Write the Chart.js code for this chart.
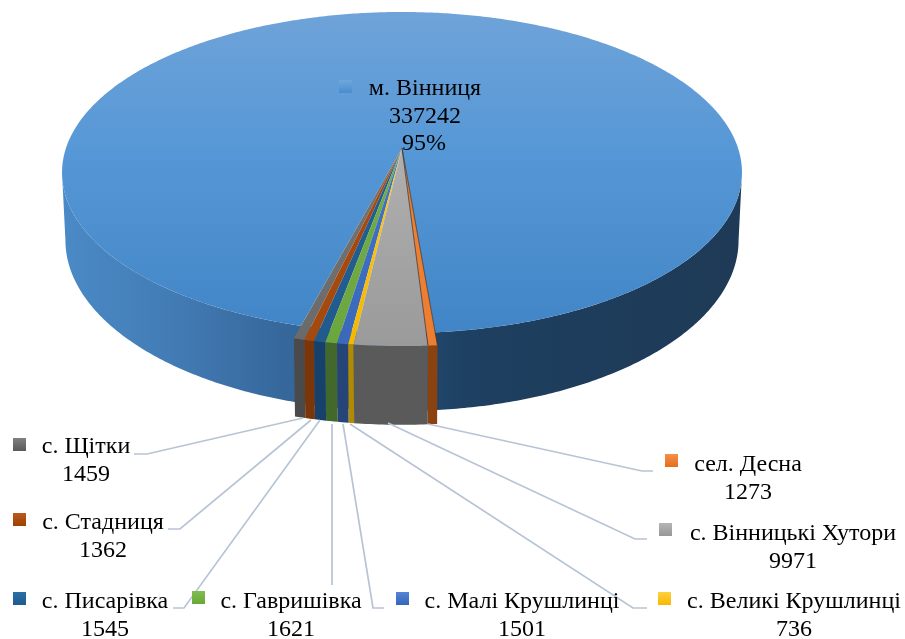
<!DOCTYPE html>
<html><head><meta charset="utf-8">
<style>html,body{margin:0;padding:0;background:#fff}canvas{display:block}</style>
<script src="https://cdn.jsdelivr.net/npm/chart.js@4"></script></head>
<body><canvas id="c" width="905" height="639"></canvas>
<script>
const categories = ['м. Вінниця','сел. Десна','с. Вінницькі Хутори','с. Великі Крушлинці','с. Малі Крушлинці','с. Гавришівка','с. Писарівка','с. Стадниця','с. Щітки'];
const values = [337242,1273,9971,736,1501,1621,1545,1362,1459];
const topTop = ['#6fa3d9','#f08030','#b0b0b0','#ffc81e','#4472c4','#70ad47','#255e91','#a9480f','#757575'];
const topBottom = ['#4285c6','#ed7d31','#9a9a9a','#f5b800','#3a68ba','#6ca63f','#215a8c','#a44a0e','#6a6a6a'];
const sideColors = [null,'#8a4310','#5a5a5a','#b08a00','#264478','#43682b','#17406a','#7a3508','#4a4a4a'];
const keyTop = ['#6fa8dc','#f4904c','#b5b5b5','#ffd040','#5585d5','#80bd50','#2a70a8','#b85a20','#808080'];
const keyBottom = ['#4a8ccc','#e86c1a','#979797','#f8b800','#3565b8','#68a838','#1f5a8c','#a04000','#5a5a5a'];
// label layout: centre x, first baseline y, key x, key y, leader elbow points
const labelBoxes = [
 {i:0,cx:425,y:95,kx:339,ky:80,pct:true},
 {i:1,cx:748,y:471,kx:665,ky:454,line:[[653,471],[642,471],[428,424]]},
 {i:2,cx:793,y:540,kx:659,ky:523,line:[[647,539],[635,539],[388,423]]},
 {i:3,cx:794,y:608,kx:658,ky:592,line:[[647,608],[633,608],[350,424]]},
 {i:4,cx:522,y:608,kx:396,ky:592,line:[[384,608],[373,608],[343,424]]},
 {i:5,cx:291,y:608,kx:192,ky:591,line:[[332,585],[332,424]]},
 {i:6,cx:105,y:608,kx:13,ky:592,line:[[173,608],[184,608],[320,420]]},
 {i:7,cx:103,y:529,kx:13,ky:513,line:[[168,529],[180,529],[311,420]]},
 {i:8,cx:86,y:453,kx:13,ky:438,line:[[134,454],[147,454],[303,418]]}
];
const CX=402, CY=148, K=156.8, P=0.1527, R=336, S=1.059, D=66, TAPER=0.99;
function proj(a,s,bottom){
  const u=Math.cos(a)*s, v=Math.sin(a)*s, w=1-P*v;
  let x=R*u/w, y=K*v/w;
  if(bottom){ x*=TAPER; y+=D/w; }
  return [CX+x, CY+y];
}
function facePath(ctx,a0,a1,s){
  ctx.beginPath(); ctx.moveTo(CX,CY);
  const n=Math.max(2,Math.ceil((a1-a0)/0.01));
  for(let j=0;j<=n;j++){const p=proj(a0+(a1-a0)*j/n,s,false);ctx.lineTo(p[0],p[1]);}
  ctx.closePath();
}
function wallPath(ctx,a0,a1,s){
  ctx.beginPath();
  const n=Math.max(2,Math.ceil((a1-a0)/0.01));
  for(let j=0;j<=n;j++){const p=proj(a0+(a1-a0)*j/n,s,false);j?ctx.lineTo(p[0],p[1]):ctx.moveTo(p[0],p[1]);}
  for(let j=n;j>=0;j--){const p=proj(a0+(a1-a0)*j/n,s,true);ctx.lineTo(p[0],p[1]);}
  ctx.closePath();
}
const pie3d={id:'pie3d',
 beforeDatasetsDraw(chart){
  const ctx=chart.ctx, arcs=chart.getDatasetMeta(0).data;
  ctx.save();
  const big=arcs[0];
  const wallGrad=ctx.createLinearGradient(62,0,742,0);
  wallGrad.addColorStop(0,'#4a8ac6');wallGrad.addColorStop(0.16,'#437cb5');wallGrad.addColorStop(0.32,'#36689c');
  wallGrad.addColorStop(0.45,'#2f5f91');wallGrad.addColorStop(0.55,'#1f4568');wallGrad.addColorStop(0.62,'#1e3f60');wallGrad.addColorStop(1,'#1e3a56');
  ctx.fillStyle=wallGrad;
  const edge=Math.asin(P);
  wallPath(ctx,edge,Math.PI-edge,1); ctx.fill();
  const g=ctx.createLinearGradient(0,12,0,333);
  g.addColorStop(0,topTop[0]);g.addColorStop(0.45,'#5597d6');g.addColorStop(1,topBottom[0]);
  ctx.fillStyle=g; facePath(ctx,big.startAngle,big.endAngle,1); ctx.fill();
  for(let i=arcs.length-1;i>=1;i--){
    const a=arcs[i];
    ctx.fillStyle=sideColors[i]; wallPath(ctx,a.startAngle,a.endAngle,S); ctx.fill();
  }
  for(let i=arcs.length-1;i>=1;i--){
    const a=arcs[i];
    const gg=ctx.createLinearGradient(0,148,0,346);
    gg.addColorStop(0,topTop[i]);gg.addColorStop(1,topBottom[i]);
    ctx.fillStyle=gg; facePath(ctx,a.startAngle,a.endAngle,S); ctx.fill();
  }
  ctx.strokeStyle='rgba(50,50,50,.75)';ctx.lineWidth=1;
  [arcs[1].startAngle,arcs[1].endAngle].forEach(a=>{const p=proj(a,S,false);ctx.beginPath();ctx.moveTo(CX,CY);ctx.lineTo(p[0],p[1]);ctx.stroke();});
  ctx.restore();
  return false;
 },
 afterDraw(chart){
  const ctx=chart.ctx; ctx.save();
  const total=values.reduce((a,b)=>a+b,0);
  ctx.strokeStyle='#b7c4d6';ctx.lineWidth=1.7;
  labelBoxes.forEach(b=>{
    if(b.line){ctx.beginPath();b.line.forEach((p,j)=>j?ctx.lineTo(p[0],p[1]):ctx.moveTo(p[0],p[1]));ctx.stroke();}
  });
  ctx.font='24px "Liberation Serif"';ctx.fillStyle='#000';ctx.textAlign='center';ctx.textBaseline='alphabetic';
  labelBoxes.forEach(b=>{
    const gg=ctx.createLinearGradient(0,b.ky,0,b.ky+13);
    gg.addColorStop(0,keyTop[b.i]);gg.addColorStop(1,keyBottom[b.i]);
    ctx.fillStyle=gg;ctx.fillRect(b.kx,b.ky,13,13);
    ctx.fillStyle='#000';
    ctx.fillText(categories[b.i],b.cx,b.y);
    ctx.fillText(String(values[b.i]),b.cx,b.y+27.5);
    if(b.pct)ctx.fillText(Math.round(values[b.i]/total*100)+'%',b.cx-1,b.y+55);
  });
  ctx.restore();
 }
};
new Chart(document.getElementById('c'),{
 type:'pie',
 data:{labels:categories,datasets:[{data:values,backgroundColor:topBottom,borderWidth:0}]},
 options:{responsive:false,animation:false,rotation:194.85,
  plugins:{legend:{display:false},tooltip:{enabled:false}}},
 plugins:[pie3d]
});
</script></body></html>
